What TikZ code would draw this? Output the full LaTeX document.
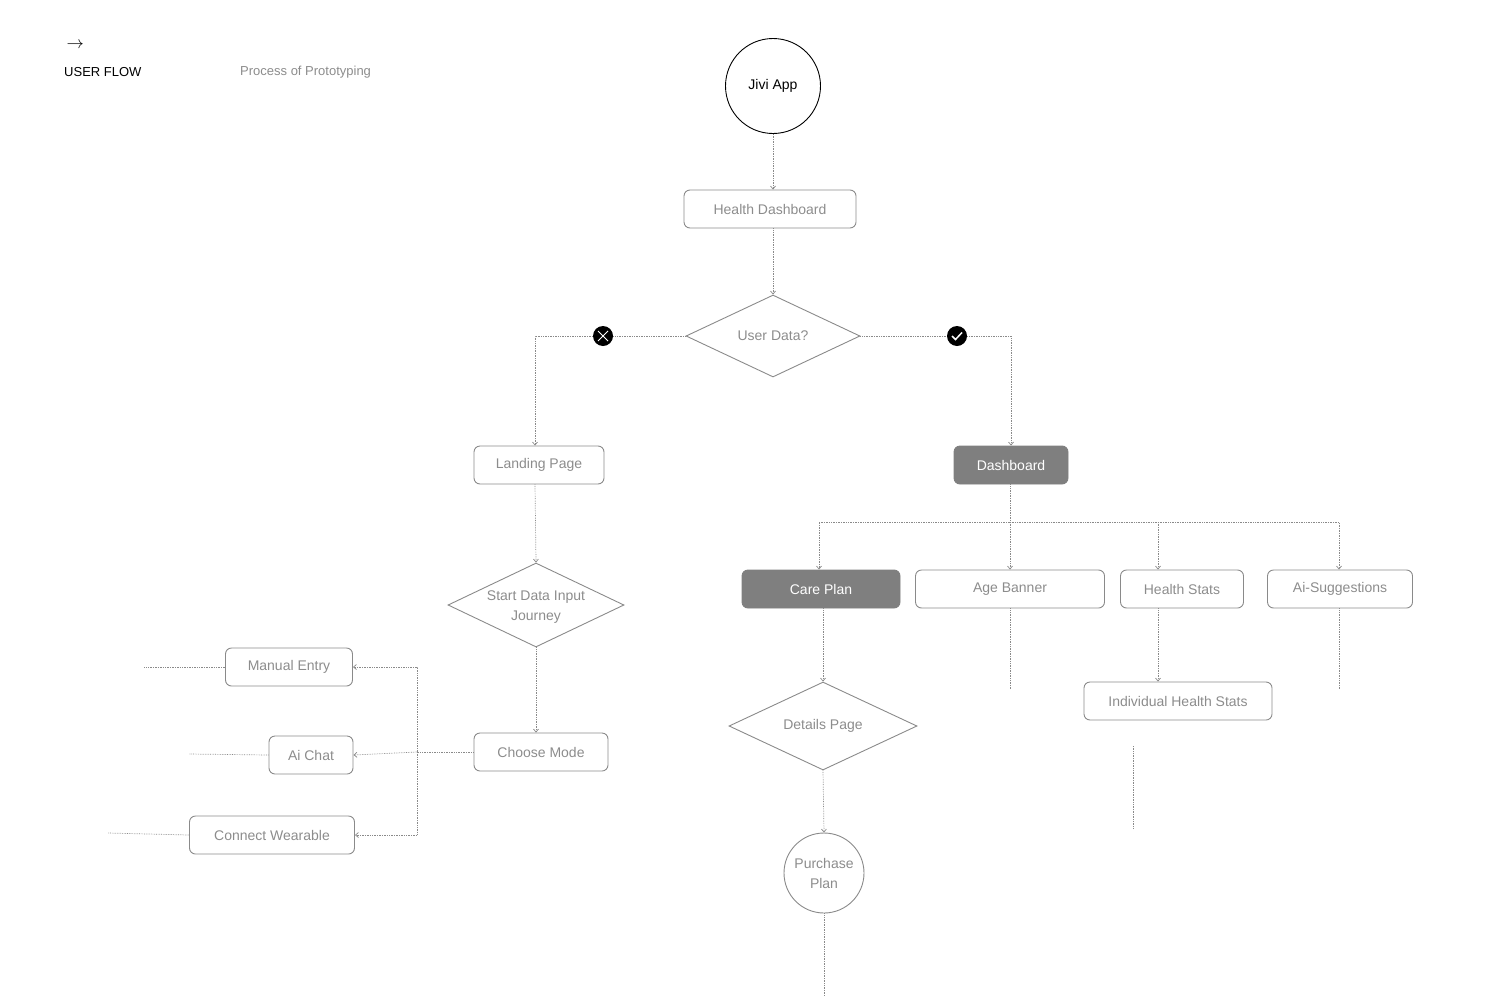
\documentclass[tikz,border=0pt]{standalone}
\usepackage{fontspec}
\setmainfont{Liberation Sans}
\usetikzlibrary{shapes.geometric,arrows.meta}
\definecolor{ln}{HTML}{8A8A8A}
\definecolor{tx}{HTML}{8C8C8C}
\definecolor{fillg}{HTML}{7F7F7F}
\begin{document}
\begin{tikzpicture}[x=1pt,y=-1pt,
  font=\fontsize{14}{16}\selectfont,
  box/.style={draw=ln,rounded corners=6pt,line width=0.9pt,text=tx,minimum height=38pt,inner sep=0pt},
  fbox/.style={box,fill=fillg,draw=fillg,text=white},
  dia/.style={draw=ln,diamond,line width=0.9pt,text=tx,inner sep=0pt,align=center},
  con/.style={draw=ln,densely dotted,line width=0.7pt},
  arr/.style={con,-{Straight Barb[length=3pt,width=5pt]}}]
\useasboundingbox (0,0) rectangle (1512,996);
\node[anchor=west,font=\fontsize{16}{16}\selectfont] (arrowsym) at (63,45) {$\rightarrow$};
\node[anchor=west,inner sep=0pt,font=\fontsize{13}{15}\selectfont] (uf) at (64,72) {USER FLOW};
\node[anchor=west,inner sep=0pt,text=tx,font=\fontsize{13}{15}\selectfont] (pp) at (240,72) {Process of Prototyping};

\node[circle,draw=black,line width=0.9pt,minimum size=95pt,inner sep=0pt] (jivi) at (773,86) {Jivi App};
\node[box,minimum width=172pt] (hd) at (770,209) {Health Dashboard};
\node[dia,minimum width=174pt,minimum height=82pt] (ud) at (773,336) {};
\node[text=tx] (udl) at (773,336) {User Data?};
\node[circle,fill=black,minimum size=20pt,inner sep=0pt] (no) at (603,336) {};
\draw[white,line width=1pt] (598,331) -- (608,341) (598,341) -- (608,331);
\node[circle,fill=black,minimum size=20pt,inner sep=0pt] (yes) at (957,336) {};
\draw[white,line width=1.5pt] (952,336) -- (955.5,339.5) -- (962,332.5);
\node[box,minimum width=130pt] (lp) at (539,465) {Landing Page};
\node[fbox,minimum width=114pt] (db) at (1011,465) {Dashboard};
\node[dia,minimum width=176pt,minimum height=84pt] (sd) at (536,605) {};
\node[text=tx,align=center,font=\fontsize{14}{20}\selectfont] (sdl) at (536,607) {Start Data Input\\Journey};
\node[box,minimum width=134pt] (cm) at (541,752) {Choose Mode};
\node[box,minimum width=127pt] (me) at (289,667) {Manual Entry};
\node[box,minimum width=84pt] (ac) at (311,755) {Ai Chat};
\node[box,minimum width=165pt] (cw) at (272,835) {Connect Wearable};
\node[fbox,minimum width=158pt] (cp) at (821,589) {Care Plan};
\node[box,minimum width=189pt] (ab) at (1010,589) {Age Banner};
\node[box,minimum width=123pt] (hs) at (1182,589) {Health Stats};
\node[box,minimum width=145pt] (ais) at (1340,589) {Ai-Suggestions};
\node[dia,minimum width=188pt,minimum height=88pt] (dp) at (823,726) {};
\node[text=tx] (dpl) at (823,726) {Details Page};
\node[circle,draw=ln,line width=0.9pt,minimum size=80pt,inner sep=0pt,text=tx,align=center,font=\fontsize{14}{20}\selectfont] (pu) at (824,873) {Purchase\\Plan};
\node[box,minimum width=188pt] (ihs) at (1178,701) {Individual Health Stats};

\coordinate (e1) at (144,667); \coordinate (e2) at (189,754); \coordinate (e3) at (108,833);
\coordinate (e4) at (1010,690); \coordinate (e5) at (1339,690); \coordinate (e6) at (824,996);
\coordinate (l1) at (1133,746); \coordinate (l2) at (1133,828);
\coordinate (j) at (1010,522);

\draw[arr] (jivi) -- (hd.north -| jivi);
\draw[arr] (hd.south -| jivi) -- (ud.north);
\draw[con] (ud.west) -- (no);
\draw[arr] (no) -| (lp.north -| 535,0);
\draw[con] (ud.east) -- (yes);
\draw[arr] (yes) -| (db.north);
\draw[arr] (lp.south -| 535,0) -- (sd.north);
\draw[arr] (sd.south) -- (cm.north -| sd.south);
\draw[con] (cm.west) -- (417,752);
\draw[arr] (417,752) -- (ac.east);
\draw[arr] (417,752) |- (me.east);
\draw[arr] (417,752) |- (cw.east);
\draw[con] (me.west) -- (e1);
\draw[con] (ac.west) -- (e2);
\draw[con] (cw.west) -- (e3);
\draw[con] (db.south -| j) -- (j);
\draw[arr] (j) -| (cp.north -| 819,0);
\draw[arr] (j) -- (ab.north);
\draw[arr] (j) -| (hs.north -| 1158,0);
\draw[arr] (j) -| (ais.north -| 1339,0);
\draw[arr] (cp.south -| 823,0) -- (dp.north);
\draw[arr] (dp.south) -- (pu.north);
\draw[con] (pu.south) -- (e6);
\draw[arr] (hs.south -| 1158,0) -- (ihs.north -| 1158,0);
\draw[con] (ab.south) -- (e4);
\draw[con] (ais.south -| e5) -- (e5);
\draw[con] (l1) -- (l2);
\end{tikzpicture}
\end{document}
